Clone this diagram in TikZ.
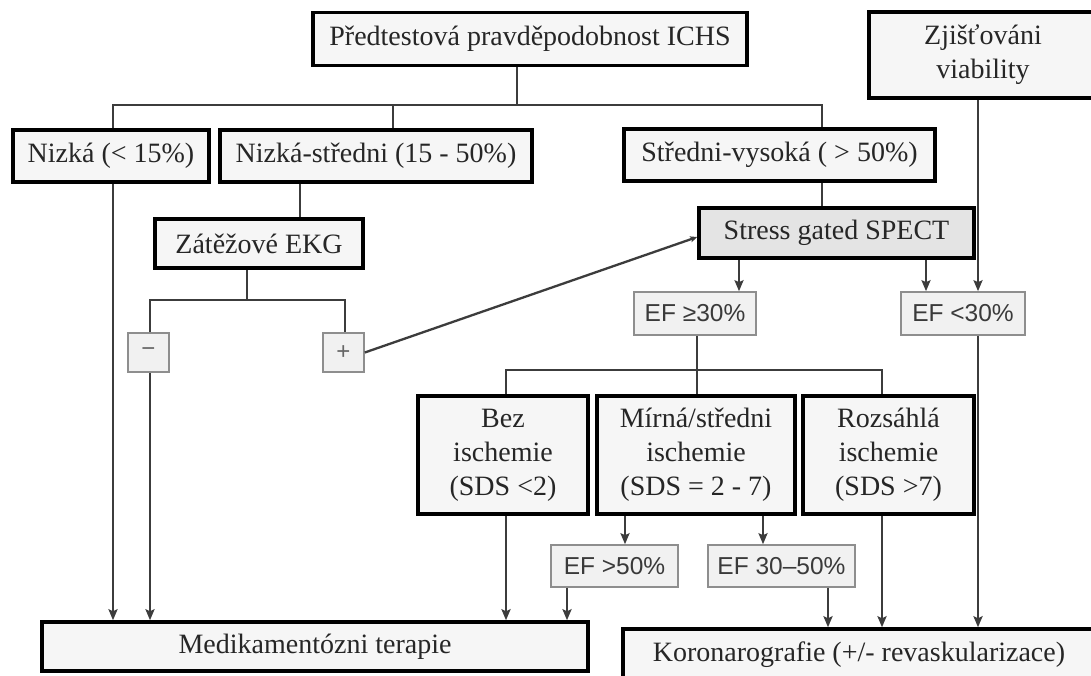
\documentclass[tikz,border=0pt]{standalone}
\usepackage{fontspec}
\setmainfont{Liberation Serif}
\newfontfamily\efsans{Liberation Sans}
\usetikzlibrary{arrows.meta}

\definecolor{boxfill}{HTML}{F6F6F6}
\definecolor{spectfill}{HTML}{E4E4E4}
\definecolor{effill}{HTML}{F1F1F1}
\definecolor{efline}{HTML}{8E8E8E}
\definecolor{eftext}{HTML}{3A3A3A}
\definecolor{connline}{HTML}{3C3C3C}

\tikzset{
  mainbox/.style={draw=black, line width=3.5pt, fill=boxfill, inner sep=0pt,
    align=center, font=\fontsize{28}{34}\selectfont, text=black!85},
  spectbox/.style={mainbox, fill=spectfill},
  efbox/.style={draw=efline, line width=1.6pt, fill=effill, inner sep=0pt,
    font=\efsans\fontsize{24.5}{28}\selectfont, text=eftext},
  signbox/.style={efbox, font=\efsans\fontsize{24}{26}\selectfont, text=black!60},
  conn/.style={draw=connline, line width=2.3pt},
  arr/.style={conn, -{Stealth[length=11pt, width=9pt, inset=2pt]}},
}

\begin{document}
\begin{tikzpicture}[x=1pt, y=-1pt]
\useasboundingbox (0,0) rectangle (1091,675);
\fill[white] (0,0) rectangle (1091,675);
\clip (0,0) rectangle (1091,675);

% column positions of the connectors
\coordinate (cN)   at (113,0);
\coordinate (cTop) at (517,0);
\coordinate (cNS)  at (393,0);
\coordinate (cSV)  at (822,0);
\coordinate (cEI)  at (300,0);
\coordinate (cEO)  at (247,0);
\coordinate (cMi)  at (150,0);
\coordinate (cPl)  at (345,0);
\coordinate (cSPa) at (739,0);
\coordinate (cSPb) at (926,0);
\coordinate (cVia) at (978,0);
\coordinate (cEF)  at (697,0);
\coordinate (cBez) at (506,0);
\coordinate (cRoz) at (882,0);
\coordinate (cM1)  at (625,0);
\coordinate (cM2)  at (763,0);
\coordinate (cE50) at (567,0);
\coordinate (cE35) at (828,0);
% rows of the horizontal branches
\coordinate (rTop) at (0,105);
\coordinate (rEKG) at (0,300);
\coordinate (rEF)  at (0,370);

% boxes
\node[mainbox, minimum width=434pt, minimum height=53pt] (top) at (530,39) {Předtestová pravděpodobnost ICHS};
\node[mainbox, minimum width=228pt, minimum height=86pt] (via) at (983,55) {Zjišťováni\\viability};
\node[mainbox, minimum width=196pt, minimum height=52pt] (nizka) at (111,156) {Nizká (< 15\%)};
\node[mainbox, minimum width=312pt, minimum height=52pt] (nizstr) at (376,156) {Nizká-středni (15 - 50\%)};
\node[mainbox, minimum width=311pt, minimum height=52pt] (strvys) at (779.5,155) {Středni-vysoká ( > 50\%)};
\node[mainbox, minimum width=208pt, minimum height=49pt] (ekg) at (259,243.5) {Zátěžové EKG};
\node[spectbox, minimum width=275pt, minimum height=50pt] (spect) at (836.5,233) {Stress gated SPECT};
\node[signbox, minimum width=41pt, minimum height=39pt] (minus) at (148.5,352.5) {−};
\node[signbox, minimum width=41pt, minimum height=39pt] (plus) at (343.5,352.5) {+};
\node[efbox, minimum width=122pt, minimum height=43pt] (ef30) at (695,313.5) {EF ≥30\%};
\node[efbox, minimum width=124pt, minimum height=43pt] (eflt30) at (963,313.5) {EF <30\%};
\node[mainbox, minimum width=170pt, minimum height=118pt] (bez) at (503,455) {Bez\\ischemie\\(SDS <2)};
\node[mainbox, minimum width=198pt, minimum height=118pt] (mirna) at (696,455) {Mírná/středni\\ischemie\\(SDS = 2 - 7)};
\node[mainbox, minimum width=171pt, minimum height=118pt] (rozs) at (888.5,455) {Rozsáhlá\\ischemie\\(SDS >7)};
\node[efbox, minimum width=127pt, minimum height=42pt] (ef50) at (614.5,566) {EF >50\%};
\node[efbox, minimum width=147pt, minimum height=42pt] (ef3050) at (781.5,566) {EF 30–50\%};
\node[mainbox, minimum width=546pt, minimum height=49pt] (medik) at (315,646.5) {Medikamentózni terapie};
\node[mainbox, minimum width=472pt, minimum height=52pt] (koro) at (859,655) {Koronarografie (+/- revaskularizace)};

% pretest probability branches
\draw[conn] (top.south -| cTop) -- (cTop |- rTop);
\draw[conn] (nizka.north -| cN) -- (cN |- rTop) -- (cSV |- rTop) -- (strvys.north -| cSV);
\draw[conn] (nizstr.north -| cNS) -- (cNS |- rTop);
\draw[conn] (nizstr.south -| cEI) -- (ekg.north -| cEI);
\draw[conn] (strvys.south -| cSV) -- (spect.north -| cSV);

% exercise ECG
\draw[conn] (ekg.south -| cEO) -- (cEO |- rEKG);
\draw[conn] (minus.north -| cMi) -- (cMi |- rEKG) -- (cPl |- rEKG) -- (plus.north -| cPl);
\draw[conn, -{Stealth[length=7pt, width=6pt, inset=1.5pt]}] (plus.east) -- ([yshift=-4pt]spect.west);

% SPECT results
\draw[arr] (spect.south -| cSPa) -- (ef30.north -| cSPa);
\draw[arr] (spect.south -| cSPb) -- (eflt30.north -| cSPb);
\draw[arr] (via.south -| cVia) -- (eflt30.north -| cVia);
\draw[conn] (ef30.south -| cEF) -- (mirna.north -| cEF);
\draw[conn] (bez.north -| cBez) -- (cBez |- rEF) -- (cRoz |- rEF) -- (rozs.north -| cRoz);
\draw[arr] (mirna.south -| cM1) -- (ef50.north -| cM1);
\draw[arr] (mirna.south -| cM2) -- (ef3050.north -| cM2);

% into medical therapy
\draw[arr] (nizka.south -| cN) -- (medik.north -| cN);
\draw[arr] (minus.south -| cMi) -- (medik.north -| cMi);
\draw[arr] (bez.south -| cBez) -- (medik.north -| cBez);
\draw[arr] (ef50.south -| cE50) -- (medik.north -| cE50);

% into coronarography
\draw[arr] (ef3050.south -| cE35) -- (koro.north -| cE35);
\draw[arr] (rozs.south -| cRoz) -- (koro.north -| cRoz);
\draw[arr] (eflt30.south -| cVia) -- (koro.north -| cVia);
\end{tikzpicture}
\end{document}
